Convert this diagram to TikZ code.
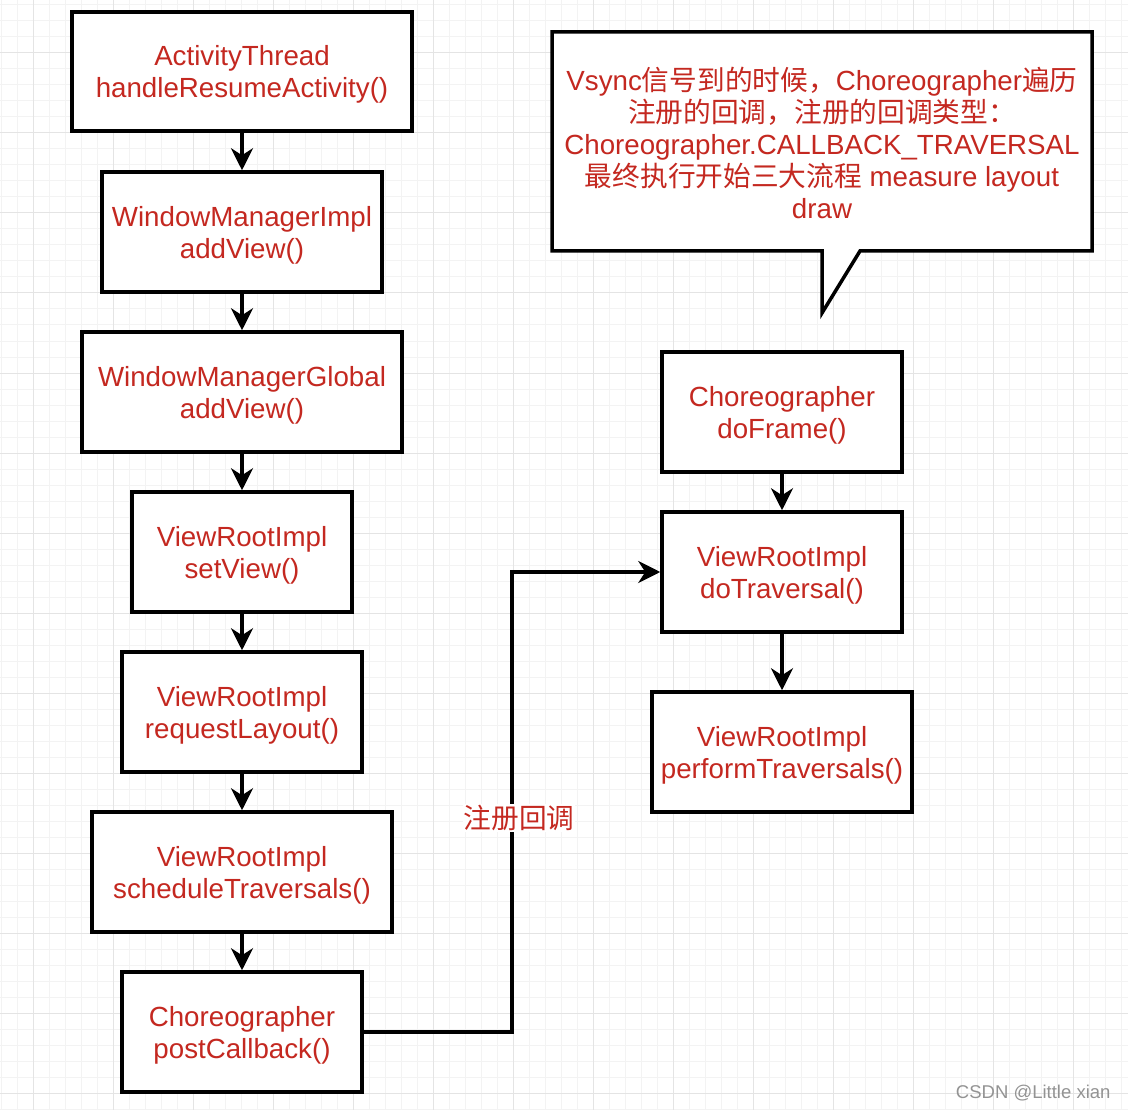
\documentclass[tikz,border=0pt]{standalone}
\usepackage{fontspec}
\setmainfont{Liberation Sans}
\newfontfamily\cjk{Noto Sans CJK SC}
\usetikzlibrary{arrows.meta}
\definecolor{txtred}{RGB}{196,40,32}
\definecolor{gridminor}{RGB}{243,243,243}
\definecolor{gridmajor}{RGB}{228,228,228}
\begin{document}
\begin{tikzpicture}[x=1pt,y=-1pt,
  box/.style={draw=black, line width=3.5pt, fill=white, rectangle, align=center,
    text=txtred, font=\fontsize{27.7}{32}\selectfont, inner sep=0pt, text depth=-4pt},
  flow/.style={draw=black, line width=3.5pt,
    -{Stealth[length=22pt,width=22pt,inset=7pt]}},
  lbl/.style={text=txtred, font=\fontsize{27.7}{32}\selectfont, align=center},
]
\useasboundingbox[fill=white] (0,0) rectangle (1128,1110);
% grid
\foreach \x in {1,17,...,1128} \draw[gridminor, line width=1pt] (\x,0) -- (\x,1110);
\foreach \y in {5,21,...,1110} \draw[gridminor, line width=1pt] (0,\y) -- (1128,\y);
\foreach \x in {33,113,...,1128} \draw[gridmajor, line width=1pt] (\x,0) -- (\x,1110);
\foreach \y in {53,133,...,1110} \draw[gridmajor, line width=1pt] (0,\y) -- (1128,\y);

% left column
\node[box, minimum width=340pt, minimum height=119pt] (b1) at (242,71.5) {ActivityThread\\handleResumeActivity()};
\node[box, minimum width=280pt, minimum height=120pt] (b2) at (242,232) {WindowManagerImpl\\addView()};
\node[box, minimum width=320pt, minimum height=120pt] (b3) at (242,392) {WindowManagerGlobal\\addView()};
\node[box, minimum width=220pt, minimum height=120pt] (b4) at (242,552) {ViewRootImpl\\setView()};
\node[box, minimum width=240pt, minimum height=120pt] (b5) at (242,712) {ViewRootImpl\\requestLayout()};
\node[box, minimum width=300pt, minimum height=120pt] (b6) at (242,872) {ViewRootImpl\\scheduleTraversals()};
\node[box, minimum width=240pt, minimum height=120pt] (b7) at (242,1032) {Choreographer\\postCallback()};

% right column
\node[box, minimum width=240pt, minimum height=120pt] (r1) at (782,412) {Choreographer\\doFrame()};
\node[box, minimum width=240pt, minimum height=120pt] (r2) at (782,572) {ViewRootImpl\\doTraversal()};
\node[box, minimum width=260pt, minimum height=120pt] (r3) at (782,752) {ViewRootImpl\\performTraversals()};

% callout
\draw[line width=3.5pt, fill=white, line join=miter]
  (552,32) -- (1092,32) -- (1092,251) -- (860,251) -- (822,313) -- (822,251) -- (552,251) -- cycle;
\node[lbl] (note) at (822,143) {Vsync{\cjk 信号到的时候，}Choreographer{\cjk 遍历}\\{\cjk 注册的回调，注册的回调类型：}\\Choreographer.CALLBACK\_TRAVERSAL\\{\cjk 最终执行开始三大流程} measure layout\\draw};

% connectors
\draw[flow] (b1) -- (b2);
\draw[flow] (b2) -- (b3);
\draw[flow] (b3) -- (b4);
\draw[flow] (b4) -- (b5);
\draw[flow] (b5) -- (b6);
\draw[flow] (b6) -- (b7);
\draw[flow] (r1) -- (r2);
\draw[flow] (r2) -- (r3);
\coordinate (bend) at (512,1032);
\draw[flow, line join=miter] (b7.east) -- (bend) |- (r2.west);
\node[lbl, fill=white, inner sep=1pt] (reg) at (519,818) {\cjk 注册回调};

% watermark
\node[anchor=east, text=gray!85, font=\fontsize{18.5}{20}\selectfont] (wm) at (1114,1093) {CSDN @Little xian};
\end{tikzpicture}
\end{document}
